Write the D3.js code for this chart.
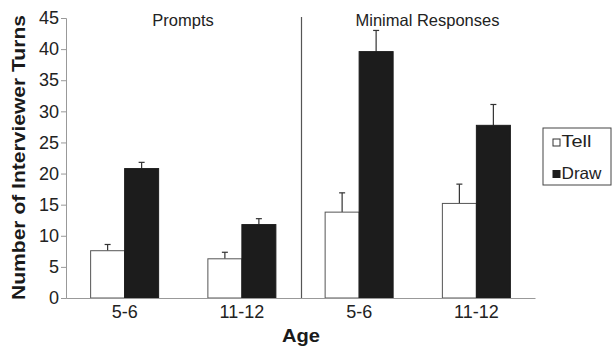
<!DOCTYPE html>
<html>
<head>
<meta charset="utf-8">
<script src="https://cdn.jsdelivr.net/npm/d3@7"></script>
<style>
  body { margin: 0; background: #fff; }
  svg { font-family: Arial, "Liberation Sans", sans-serif; }
</style>
</head>
<body>
<div class="chart"></div>
<script>
// chart values
const panels = ["Prompts", "Minimal Responses"];
const ages = ["5-6", "11-12"];
const series = ["Tell", "Draw"];
// one entry per panel x age, in order
const tellValues = [7.6, 6.3, 13.8, 15.2];
const tellErrors = [1.0, 1.05, 3.1, 3.1];
const drawValues = [20.8, 11.8, 39.6, 27.75];
const drawErrors = [1.0, 0.95, 3.4, 3.35];
const yTicks = [0, 5, 10, 15, 20, 25, 30, 35, 40, 45];

const width = 612;
const height = 356;
const margin = { top: 18, right: 77, bottom: 58, left: 66 };
const font = 'Arial, "Liberation Sans", sans-serif';

const groups = [];
panels.forEach((p, i) => ages.forEach((a, j) => groups.push({ key: p + "|" + a, age: a, idx: i * 2 + j })));

const svg = d3.select('.chart')
  .append('svg')
  .attr('width', width)
  .attr('height', height);

const x = d3.scaleBand()
  .domain(groups.map(d => d.key))
  .range([margin.left, width - margin.right]);

const y = d3.scaleLinear()
  .domain([0, 45])
  .range([height - margin.bottom, margin.top]);

const barW = 34;
const bars = [];
groups.forEach(g => {
  bars.push({ g, s: "Tell", v: tellValues[g.idx], e: tellErrors[g.idx], off: -barW });
  bars.push({ g, s: "Draw", v: drawValues[g.idx], e: drawErrors[g.idx], off: 0 });
});
const cx = d => x(d.g.key) + x.bandwidth() / 2 + d.off;

// error bars (drawn first, bar tops cover the base)
const err = svg.append('g').attr('stroke', '#333').attr('stroke-width', 1.2);
err.selectAll('line.v')
  .data(bars)
  .join('line')
    .attr('class', 'v')
    .attr('x1', d => cx(d) + barW / 2)
    .attr('x2', d => cx(d) + barW / 2)
    .attr('y1', d => y(d.v))
    .attr('y2', d => y(d.v + d.e));
err.selectAll('line.c')
  .data(bars)
  .join('line')
    .attr('class', 'c')
    .attr('x1', d => cx(d) + barW / 2 - 3)
    .attr('x2', d => cx(d) + barW / 2 + 3)
    .attr('y1', d => y(d.v + d.e))
    .attr('y2', d => y(d.v + d.e));

svg.append('g')
  .selectAll('rect')
  .data(bars)
  .join('rect')
    .attr('x', d => cx(d))
    .attr('y', d => y(d.v))
    .attr('width', barW)
    .attr('height', d => y(0) - y(d.v))
    .attr('fill', d => d.s === "Tell" ? '#fff' : '#1c1c1c')
    .attr('stroke', d => d.s === "Tell" ? '#555' : '#1c1c1c')
    .attr('stroke-width', 1);

// y axis
const yAxis = svg.append('g')
  .attr('transform', `translate(${margin.left}, 0)`)
  .call(d3.axisLeft(y).tickValues(yTicks).tickSize(5).tickPadding(2));
yAxis.select('.domain').attr('stroke', '#999');
yAxis.selectAll('.tick line').attr('stroke', '#999');
yAxis.selectAll('.tick text').attr('font-size', 18).attr('fill', '#222').attr('font-family', font);

// x axis
const xAxis = svg.append('g')
  .attr('transform', `translate(0, ${y(0)})`)
  .call(d3.axisBottom(x).tickSize(0).tickPadding(7).tickFormat(k => k.split("|")[1]));
xAxis.select('.domain').attr('stroke', '#999');
xAxis.selectAll('.tick text').attr('font-size', 18).attr('fill', '#222').attr('font-family', font);

// panel divider
const midX = x(groups[2].key);
svg.append('line')
  .attr('x1', midX + 1).attr('x2', midX + 1)
  .attr('y1', y(45) - 1).attr('y2', y(0))
  .attr('stroke', '#555').attr('stroke-width', 1.2);

// panel titles
svg.append('text')
  .attr('x', 183)
  .attr('y', 26)
  .attr('text-anchor', 'middle')
  .attr('font-size', 16.5)
  .attr('fill', '#222')
  .text(panels[0]);
svg.append('text')
  .attr('x', 427.5)
  .attr('y', 26)
  .attr('text-anchor', 'middle')
  .attr('font-size', 16.5)
  .attr('fill', '#222')
  .text(panels[1]);

// axis titles
svg.append('text')
  .attr('transform', `translate(25, ${(300 + 15) / 2}) rotate(-90)`)
  .attr('text-anchor', 'middle')
  .attr('font-size', 19)
  .attr('font-weight', 'bold')
  .attr('fill', '#1a1a1a')
  .attr('textLength', 285)
  .attr('lengthAdjust', 'spacingAndGlyphs')
  .text('Number of Interviewer Turns');
svg.append('text')
  .attr('x', 301)
  .attr('y', 342)
  .attr('text-anchor', 'middle')
  .attr('font-size', 19)
  .attr('font-weight', 'bold')
  .attr('fill', '#1a1a1a')
  .attr('textLength', 38)
  .attr('lengthAdjust', 'spacingAndGlyphs')
  .text('Age');

// legend
const legend = svg.append('g').attr('transform', 'translate(543, 128)');
legend.append('rect')
  .attr('width', 68).attr('height', 57)
  .attr('fill', '#fff').attr('stroke', '#444').attr('stroke-width', 1);
const legendLen = [30, 40];
series.forEach((s, i) => {
  legend.append('rect')
    .attr('x', 10).attr('y', 11 + i * 31.5)
    .attr('width', 7).attr('height', 7)
    .attr('fill', s === "Tell" ? '#fff' : '#1c1c1c')
    .attr('stroke', s === "Tell" ? '#333' : '#1c1c1c');
  legend.append('text')
    .attr('x', 18.5).attr('y', 19 + i * 31.5)
    .attr('font-size', 16.5)
    .attr('fill', '#222')
    .attr('textLength', legendLen[i])
    .attr('lengthAdjust', 'spacingAndGlyphs')
    .text(s);
});
</script>
</body>
</html>
